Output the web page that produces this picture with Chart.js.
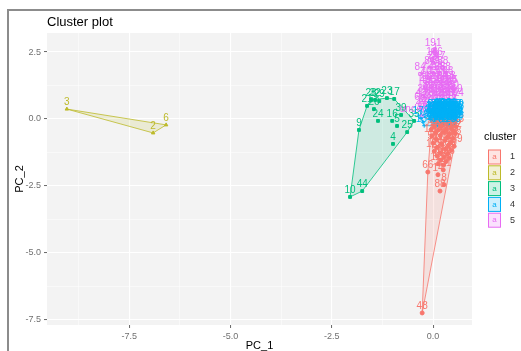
<!DOCTYPE html>
<html>
<head>
<meta charset="utf-8">
<script src="https://cdn.jsdelivr.net/npm/chart.js@4/dist/chart.umd.min.js"></script>
<style>
  html, body { margin: 0; padding: 0; background: #fff; overflow: hidden; }
  #wrap { position: relative; width: 521px; height: 351px; }
  #frame { position: absolute; left: 7px; top: 9px; width: 600px; height: 400px; border: 2px solid #8c8c8c; }
  canvas { position: absolute; left: 0; top: 0; }
</style>
</head>
<body>
<div id="wrap">
  <div id="frame"></div>
  <canvas id="grafica" width="521" height="351"></canvas>
</div>
<script>
// ejes
const xRange = [-9.53, 0.96];
const yRange = [-7.69, 3.21];
const xMajor = [-7.5, -5, -2.5, 0];
const xMinor = [-8.75, -6.25, -3.75, -1.25];
const yMajor = [2.5, 0, -2.5, -5, -7.5];
const yMinor = [1.25, -1.25, -3.75, -6.25];

const clusterNames = ["1", "2", "3", "4", "5"];
const clusterColors = ["#F8766D", "#BDBA2A", "#00BF7D", "#00B0F6", "#E76BF3"];
const clusterShapes = ["circle", "triangle", "rect", "cross", "rect"];

// cluster 1
const c1Labels = ["12","57","101","133","70","95","150","122","30","61","176","87","110","143","27","158","99","73","186","52","117","64","139","83","171","20","125","91","147","58","163","36","104","78","119","41","66","14","131","8","88","48"];
const c1X = [0.02,0.21,0.44,0.56,-0.05,0.12,0.33,0.50,0.05,0.25,0.41,0.55,-0.03,0.18,0.36,0.49,0.08,0.29,0.45,0.00,0.21,0.38,0.52,0.10,0.31,0.45,0.03,0.18,0.36,0.10,0.27,0.40,0.19,0.32,0.13,0.26,-0.13,0.12,0.25,0.27,0.17,-0.27];
const c1Y = [-0.30,-0.27,-0.32,-0.28,-0.40,-0.42,-0.39,-0.45,-0.52,-0.50,-0.56,-0.54,-0.64,-0.62,-0.68,-0.72,-0.76,-0.80,-0.85,-0.90,-0.94,-0.98,-1.02,-1.06,-1.12,-1.17,-1.20,-1.26,-1.30,-1.38,-1.42,-1.46,-1.54,-1.59,-1.67,-1.72,-1.98,-2.08,-1.90,-2.45,-2.69,-7.24];

// cluster 2
const c2Labels = ["3", "2", "6"];
const c2X = [-9.04, -6.91, -6.59];
const c2Y = [0.37, -0.52, -0.22];

// cluster 3
const c3Labels = ["10","44","9","21","28","32","29","23","17","24","26","16","5","39","35","25","4"];
const c3X = [-2.05,-1.75,-1.83,-1.63,-1.53,-1.43,-1.33,-1.14,-0.96,-1.36,-1.46,-1.01,-0.89,-0.79,-0.47,-0.64,-0.99];
const c3Y = [-2.91,-2.69,-0.41,0.49,0.71,0.71,0.67,0.78,0.75,-0.07,0.37,-0.07,-0.26,0.15,-0.07,-0.49,-0.93];

// cluster 4
const c4Labels = ["45","102","160","7","93","128","155","189","11","74","113","140","167","198","19","50","136","172","81","31","62","97","124","149","181","40","86","118","157","193","15","54","107","145","177","33","69","92","130","162","196","22","59","115","152","184","37","76","120","169","26","134","178","63","100",
  "201","203","205","207","209","211","213","215","217","219","221","223","225","227","229","231","233","235","237","239","241","243","245","247","249","251","253","255","257","259","261","263","265"];
const c4X = [0.12,0.25,0.38, 0.02,0.18,0.31,0.45,0.55, -0.05,0.10,0.24,0.36,0.50,0.56, 0.00,0.15,0.28,0.42,0.55, -0.06,0.08,0.21,0.34,0.47,0.56, 0.03,0.17,0.30,0.44,0.55, -0.04,0.11,0.25,0.38,0.52,0.56, 0.05,0.19,0.33,0.46,0.55, 0.00,0.14,0.27,0.40,0.53, 0.10,0.24,0.37,0.48, -0.25,-0.22,-0.30,0.20,0.35,
  0.07,0.24,0.36,0.50, 0.04,0.16,0.29,0.42, 0.06,0.20,0.34,0.48, 0.02,0.13,0.27,0.39,0.52, 0.09,0.23,0.36,0.50, 0.04,0.18,0.31,0.45, 0.12,0.26,0.39,0.51, 0.08,0.21,0.34];
const c4Y = [0.34,0.34,0.34, 0.28,0.28,0.28,0.28,0.28, 0.21,0.21,0.21,0.21,0.21,0.21, 0.14,0.14,0.14,0.14,0.14, 0.07,0.07,0.07,0.07,0.07,0.07, 0.00,0.00,0.00,0.00,0.00, -0.07,-0.07,-0.07,-0.07,-0.07,-0.07, -0.13,-0.13,-0.13,-0.13,-0.13, -0.19,-0.19,-0.19,-0.19,-0.19, -0.25,-0.25,-0.25,-0.25, -0.12,-0.25,0.02,0.10,0.18,
  0.31,0.31,0.31,0.31, 0.24,0.24,0.24,0.24, 0.17,0.17,0.17,0.17, 0.10,0.10,0.10,0.10,0.10, 0.03,0.03,0.03,0.03, -0.04,-0.04,-0.04,-0.04, -0.10,-0.10,-0.10,-0.10, -0.16,-0.16,-0.16];

// cluster 5
const c5Labels = ["191","1","46","18","29","47","84","53","68","84","42","65","88","105","137","71","68","96","127","154","173","13","49","112","141","166","188","35","80","108","135","165","60","34","90","116","146","174","199","43","6","82","126","156","182","194","66","4","3","89","111","24","28"];
const c5X = [0.00,0.06,0.10,-0.03,0.00,0.17,-0.08,0.10,0.24,-0.32,0.02,0.17,0.30,-0.10,0.08,0.22,0.36,-0.15,0.00,0.15,0.30,0.42,-0.20,-0.05,0.10,0.25,0.38,0.47,-0.12,0.05,0.20,0.34,0.50,-0.25,-0.10,0.08,0.22,0.36,0.52,-0.30,-0.15,0.02,0.16,0.30,0.45,0.55,-0.33,-0.20,-0.05,0.12,0.28,-0.30,-0.14,-0.28];
const c5Y = [2.57,2.40,2.24,2.24,2.08,2.08,1.92,1.92,1.92,1.68,1.68,1.68,1.68,1.52,1.52,1.52,1.52,1.34,1.34,1.34,1.34,1.34,1.18,1.18,1.18,1.18,1.18,1.18,1.02,1.02,1.02,1.02,1.02,0.86,0.86,0.86,0.86,0.86,0.86,0.70,0.70,0.70,0.70,0.70,0.70,0.70,0.55,0.55,0.55,0.55,0.55,0.40,0.40,0.10];

const clusterLabels = [c1Labels, c2Labels, c3Labels, c4Labels, c5Labels];
const clusterX = [c1X, c2X, c3X, c4X, c5X];
const clusterY = [c1Y, c2Y, c3Y, c4Y, c5Y];

function puntos(i) {
  return clusterX[i].map((x, j) => ({ x: x, y: clusterY[i][j] }));
}

// envolvente convexa (como chull en R)
function envolvente(pts) {
  const p = pts.slice().sort((a, b) => a.x - b.x || a.y - b.y);
  const cruz = (o, a, b) => (a.x - o.x) * (b.y - o.y) - (a.y - o.y) * (b.x - o.x);
  const bajo = [], alto = [];
  for (const q of p) {
    while (bajo.length >= 2 && cruz(bajo[bajo.length - 2], bajo[bajo.length - 1], q) <= 0) bajo.pop();
    bajo.push(q);
  }
  for (const q of p.slice().reverse()) {
    while (alto.length >= 2 && cruz(alto[alto.length - 2], alto[alto.length - 1], q) <= 0) alto.pop();
    alto.push(q);
  }
  bajo.pop(); alto.pop();
  const h = bajo.concat(alto);
  h.push(h[0]);
  return h;
}

function alpha(hex, a) {
  const n = parseInt(hex.slice(1), 16);
  return `rgba(${(n >> 16) & 255},${(n >> 8) & 255},${n & 255},${a})`;
}

const datasets = [];
clusterNames.forEach((name, i) => {
  datasets.push({
    label: name,
    data: puntos(i),
    etiquetas: clusterLabels[i],
    pointStyle: clusterShapes[i],
    pointRadius: 2,
    pointBackgroundColor: i === 4 ? "rgba(0,0,0,0)" : clusterColors[i],
    pointBorderColor: clusterColors[i],
    pointBorderWidth: 1,
    showLine: false,
  });
});
clusterNames.forEach((name, i) => {
  datasets.push({
    label: "hull " + name,
    data: envolvente(puntos(i)),
    showLine: true,
    fill: "shape",
    tension: 0,
    pointRadius: 0,
    borderWidth: 0.8,
    borderColor: clusterColors[i],
    backgroundColor: alpha(clusterColors[i], 0.15),
  });
});

const isIn = (arr, v) => arr.some(a => Math.abs(a - v) < 1e-9);

const fondoPanel = {
  id: "fondoPanel",
  beforeDraw(chart) {
    const { ctx, chartArea: a } = chart;
    ctx.save();
    ctx.fillStyle = "#F3F3F3";
    ctx.fillRect(a.left, a.top, a.right - a.left, a.bottom - a.top);
    ctx.restore();
  }
};

const etiquetasPuntos = {
  id: "etiquetasPuntos",
  afterDatasetsDraw(chart) {
    const ctx = chart.ctx;
    ctx.save();
    ctx.font = "10px 'Liberation Sans', Arial, sans-serif";
    ctx.textAlign = "center";
    ctx.textBaseline = "alphabetic";
    [0, 1, 2, 4, 3].forEach(i => {
      const meta = chart.getDatasetMeta(i);
      const ds = chart.data.datasets[i];
      ctx.fillStyle = clusterColors[i];
      meta.data.forEach((el, j) => {
        ctx.fillText(ds.etiquetas[j], el.x, el.y - 4);
      });
    });
    ctx.restore();
  }
};

const textos = {
  id: "textos",
  afterDraw(chart) {
    const ctx = chart.ctx;
    ctx.save();
    ctx.fillStyle = "#000";
    ctx.font = "13px 'Liberation Sans', Arial, sans-serif";
    ctx.textBaseline = "middle";
    ctx.textAlign = "left";
    ctx.fillText("Cluster plot", 47, 22);

    ctx.font = "11px 'Liberation Sans', Arial, sans-serif";
    ctx.fillText("cluster", 484, 137);
    clusterNames.forEach((name, i) => {
      const yc = 157 + i * 15.8;
      ctx.fillStyle = alpha(clusterColors[i], 0.2);
      ctx.fillRect(488.5, yc - 7, 12, 14);
      ctx.strokeStyle = clusterColors[i];
      ctx.lineWidth = 1;
      ctx.strokeRect(488.5, yc - 7, 12, 14);
      ctx.fillStyle = clusterColors[i];
      ctx.font = "8px 'Liberation Sans', Arial, sans-serif";
      ctx.textAlign = "center";
      ctx.fillText("a", 494.5, yc);
      ctx.fillStyle = "#333";
      ctx.font = "9px 'Liberation Sans', Arial, sans-serif";
      ctx.textAlign = "left";
      ctx.fillText(name, 510, yc);
    });
    ctx.restore();
  }
};

const tickFont = { family: "'Liberation Sans', Arial, sans-serif", size: 9 };
const titleFont = { family: "'Liberation Sans', Arial, sans-serif", size: 11, lineHeight: 1 };

function ejeConfig(rango, mayores, menores, titulo) {
  return {
    type: "linear",
    min: rango[0],
    max: rango[1],
    afterBuildTicks: s => {
      s.ticks = mayores.concat(menores).sort((a, b) => a - b).map(v => ({ value: v }));
    },
    ticks: {
      autoSkip: false,
      maxRotation: 0,
      padding: 3,
      color: "#707070",
      font: tickFont,
      callback: v => isIn(mayores, v) ? v.toFixed(1) : "",
    },
    grid: {
      color: "#ffffff",
      lineWidth: c => (c.tick && isIn(mayores, c.tick.value)) ? 1.1 : 0.5,
      drawTicks: true,
      tickLength: 3,
      tickWidth: 1,
      tickColor: c => (c.tick && isIn(mayores, c.tick.value)) ? "#666" : "rgba(0,0,0,0)",
    },
    border: { display: false },
    title: { display: true, text: titulo, color: "#000", font: titleFont, padding: { top: 0, bottom: 0 } },
  };
}

const xEje = ejeConfig(xRange, xMajor, xMinor, "PC_1");
xEje.afterFit = s => { s.height = 26; };
const yEje = ejeConfig(yRange, yMajor, yMinor, "PC_2");
yEje.afterFit = s => { s.width = 33; };

new Chart(document.getElementById("grafica"), {
  type: "scatter",
  data: { datasets: datasets },
  options: {
    responsive: false,
    animation: false,
    layout: { padding: { left: 14, top: 33, right: 49, bottom: 0 } },
    plugins: { legend: { display: false }, tooltip: { enabled: false }, title: { display: false } },
    scales: { x: xEje, y: yEje },
  },
  plugins: [fondoPanel, etiquetasPuntos, textos],
});
</script>
</body>
</html>
